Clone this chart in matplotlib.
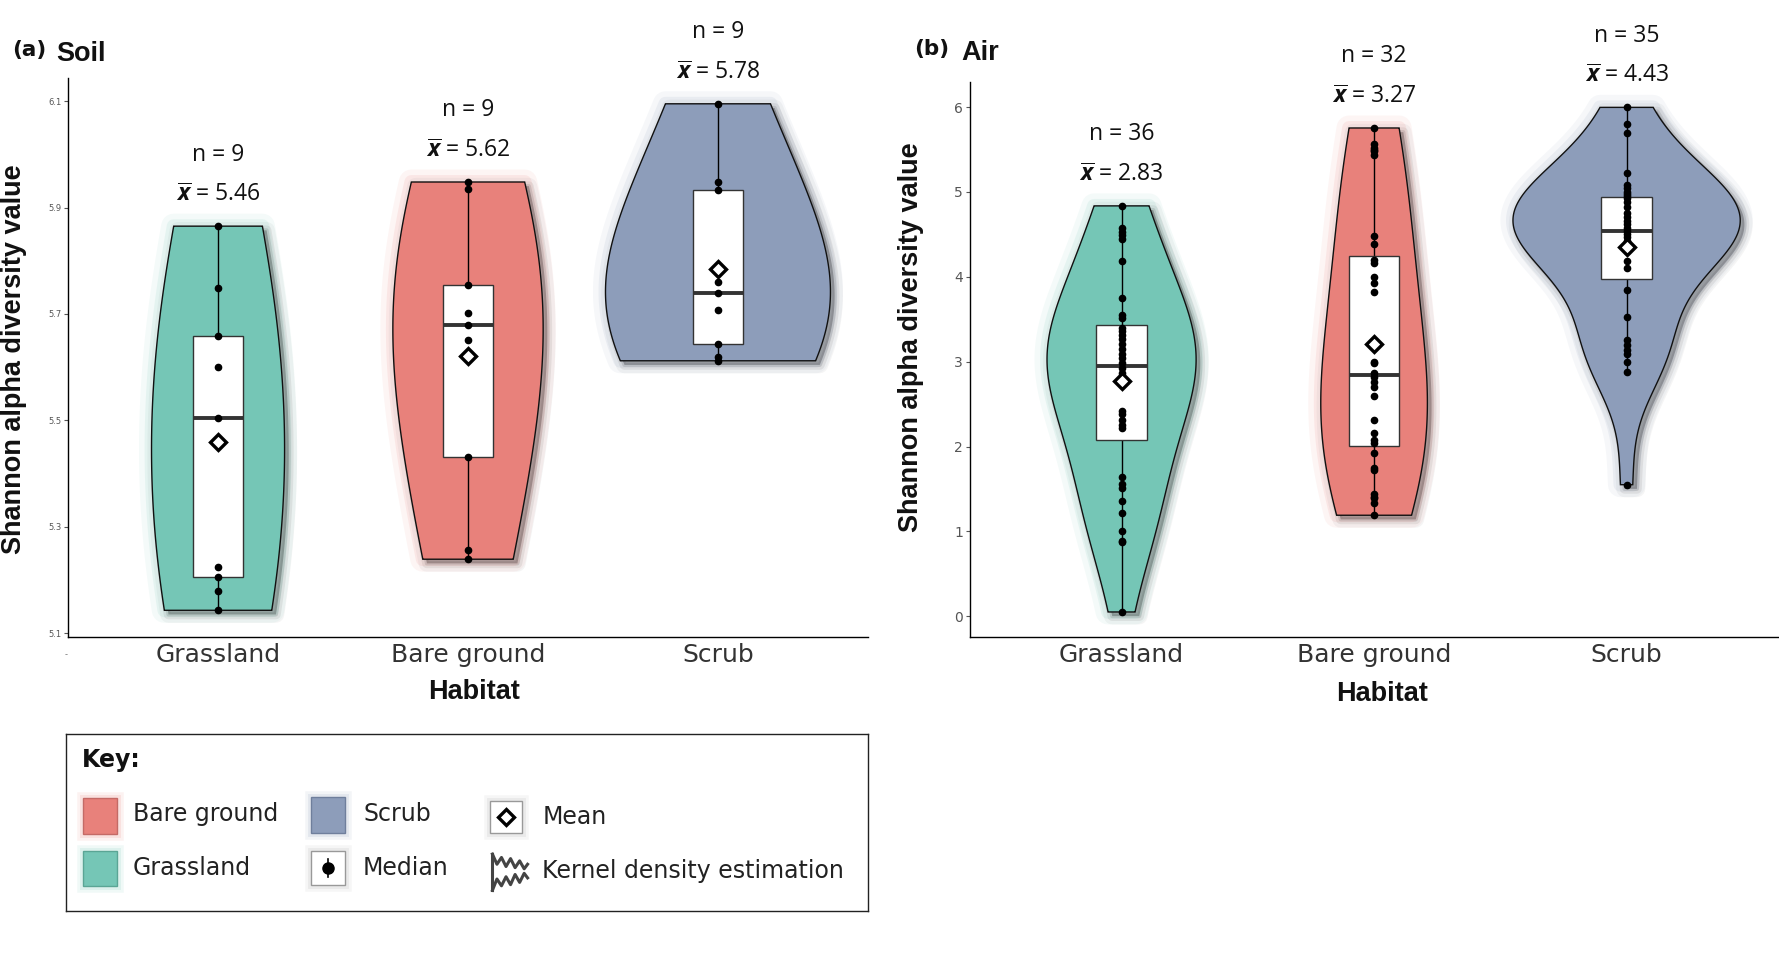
import numpy as np
import matplotlib
matplotlib.use("Agg")
import matplotlib.pyplot as plt
from matplotlib import transforms
from matplotlib.patches import Polygon, Rectangle

# ---------------- data ----------------
habitats = ["Grassland", "Bare ground", "Scrub"]

soil_grassland = [5.143, 5.179, 5.206, 5.224, 5.505, 5.600, 5.658, 5.748, 5.865]
soil_bare = [5.239, 5.257, 5.432, 5.651, 5.679, 5.701, 5.754, 5.934, 5.948]
soil_scrub = [5.612, 5.620, 5.644, 5.707, 5.740, 5.760, 5.933, 5.948, 6.095]

air_grassland = [0.05, 0.869, 0.889, 1.006, 1.221, 1.358, 1.514, 1.553, 1.639,
                 2.217, 2.25, 2.315, 2.38, 2.413, 2.75, 2.803, 2.862, 2.920,
                 2.979, 3.038, 3.096, 3.155, 3.213, 3.272, 3.312, 3.359, 3.40,
                 3.515, 3.553, 3.749, 4.191, 4.444, 4.491, 4.531, 4.570, 4.836]
air_bare = [1.19, 1.338, 1.396, 1.40, 1.436, 1.729, 1.75, 1.924, 2.041, 2.081,
            2.158, 2.307, 2.597, 2.706, 2.764, 2.823, 2.862, 2.979, 3.0, 3.819,
            3.925, 4.0, 4.159, 4.198, 4.386, 4.484, 5.441, 5.48, 5.5, 5.519,
            5.56, 5.754]
air_scrub = [1.55, 2.882, 2.999, 3.089, 3.143, 3.195, 3.253, 3.526, 3.839,
             4.104, 4.191, 4.30, 4.35, 4.386, 4.426, 4.47, 4.503, 4.543, 4.581,
             4.62, 4.66, 4.707, 4.757, 4.824, 4.88, 4.93, 4.953, 4.972, 5.0,
             5.042, 5.082, 5.226, 5.695, 5.80, 5.997]

soil_n = [9, 9, 9]
soil_mean_labels = ["5.46", "5.62", "5.78"]
air_n = [36, 32, 35]
air_mean_labels = ["2.83", "3.27", "4.43"]

soil_yticks = [5.1, 5.3, 5.5, 5.7, 5.9, 6.1]
air_yticks = [0, 1, 2, 3, 4, 5, 6]

col_grass = "#75C6B6"
col_bare = "#E8817B"
col_scrub = "#8D9DBA"
colors = [col_grass, col_bare, col_scrub]

# ---------------- style ----------------
plt.rcParams["font.family"] = ["DejaVu Sans"]
plt.rcParams["mathtext.fontset"] = "custom"
plt.rcParams["mathtext.rm"] = "Open Sans"
plt.rcParams["mathtext.it"] = "Open Sans:italic:bold"
plt.rcParams["mathtext.bf"] = "Open Sans:bold"

W, H = 1568.0, 842.0  # layout reference frame


def fx(px):
    return px / W


def fy(py):
    return 1 - py / H


def nrd0(x):
    x = np.asarray(x, float)
    sd = np.std(x, ddof=1)
    q75, q25 = np.percentile(x, [75, 25])
    lo = min(sd, (q75 - q25) / 1.34)
    if lo <= 0:
        lo = sd
    return 0.9 * lo * len(x) ** -0.2


def kde(x, grid, adjust):
    x = np.asarray(x, float)
    bw = nrd0(x) * adjust
    z = (grid[:, None] - x[None, :]) / bw
    return np.exp(-0.5 * z ** 2).sum(1) / (len(x) * bw * np.sqrt(2 * np.pi))


fig = plt.figure(figsize=(17.79, 9.55), dpi=100)


def draw_panel(ax, groups, ns, mean_labels, yticks, tick_fs, adjust):
    grids, dens = [], []
    for g in groups:
        g = np.asarray(g, float)
        grid = np.linspace(g.min(), g.max(), 512)
        grids.append(grid)
        dens.append(kde(g, grid, adjust))
    dmax = max(d.max() for d in dens)
    shadow_tr = transforms.offset_copy(ax.transData, fig=fig, x=3, y=-3, units="points")
    for i, (g, grid, d, col) in enumerate(zip(groups, grids, dens, colors)):
        g = np.asarray(g, float)
        x = i + 1
        hw = 0.45 * d / dmax
        xs = np.concatenate([x - hw, (x + hw)[::-1]])
        ys = np.concatenate([grid, grid[::-1]])
        verts = np.column_stack([xs, ys])
        # soft drop shadow
        for lw, a in [(12, 0.04), (7, 0.07), (3, 0.12)]:
            ax.add_patch(Polygon(verts, closed=True, fc="none", ec="black", lw=lw,
                                 alpha=a, transform=shadow_tr, zorder=1,
                                 joinstyle="round"))
        ax.add_patch(Polygon(verts, closed=True, fc="#444444", ec="none", alpha=0.45,
                             transform=shadow_tr, zorder=1))
        # coloured halo
        for lw, a in [(18, 0.08), (10, 0.12)]:
            ax.add_patch(Polygon(verts, closed=True, fc="none", ec=col, lw=lw,
                                 alpha=a, zorder=1.5, joinstyle="round"))
        ax.add_patch(Polygon(verts, closed=True, fc=col, ec="#111111", lw=1.0, zorder=2))

        # box plot
        q1, med, q3 = np.percentile(g, [25, 50, 75])
        iqr = q3 - q1
        lo = g[g >= q1 - 1.5 * iqr].min()
        hi = g[g <= q3 + 1.5 * iqr].max()
        ax.plot([x, x], [lo, hi], color="black", lw=1.0, zorder=3)
        bw = 0.2
        ax.add_patch(Rectangle((x - bw / 2, q1), bw, q3 - q1, fc="white",
                               ec="#333333", lw=1.0, zorder=4))
        ax.plot([x - bw / 2, x + bw / 2], [med, med], color="#333333", lw=2.8,
                zorder=5, solid_capstyle="butt")
        ax.plot(np.full(len(g), x), g, "o", color="black", ms=4.5, zorder=6)
        ax.plot([x], [g.mean()], "D", mfc="white", mec="black", mew=2.4, ms=8,
                zorder=7)

        top = g.max()
        ax.annotate(f"n = {ns[i]}", xy=(x, top), xytext=(0, 51.5),
                    textcoords="offset points", ha="center", va="center",
                    fontsize=16.5, family="Open Sans", color="#111111")
        ax.annotate(r"$\overline{x}$ = " + mean_labels[i], xy=(x, top),
                    xytext=(0, 22.5), textcoords="offset points", ha="center",
                    va="center", fontsize=16.5, family="Open Sans", color="#111111")

    ax.set_xlim(0.4, 3.6)
    ax.set_xticks([1, 2, 3])
    ax.set_xticklabels(habitats, fontsize=18, color="#333333")
    ax.tick_params(axis="x", length=0, pad=4)
    ax.set_yticks(yticks)
    ax.set_yticklabels([f"{t:g}" for t in yticks], fontsize=tick_fs, color="#555555")
    ax.tick_params(axis="y", length=3, width=0.8, color="#555555", pad=2)
    for s in ["top", "right"]:
        ax.spines[s].set_visible(False)
    for s in ["left", "bottom"]:
        ax.spines[s].set_linewidth(1.0)
        ax.spines[s].set_color("black")


ax1 = fig.add_axes([fx(60), fy(562), fx(765) - fx(60), fy(69) - fy(562)])
draw_panel(ax1, [soil_grassland, soil_bare, soil_scrub], soil_n, soil_mean_labels,
           soil_yticks, 6, 2.0)
ax1.set_ylim(5.092, 6.143)

ax2 = fig.add_axes([fx(855), fy(562), 0.9995 - fx(855), fy(72) - fy(562)])
draw_panel(ax2, [air_grassland, air_bare, air_scrub], air_n, air_mean_labels,
           air_yticks, 10, 1.7)
ax2.set_ylim(-0.25, 6.3)

# axis titles and panel labels
title_font = dict(family="Liberation Sans", fontweight="bold", fontsize=19.5,
                  color="#111111")
fig.text(fx(12), fy(317), "Shannon alpha diversity value", rotation=90,
         ha="center", va="center", **title_font)
fig.text(fx(803), fy(297), "Shannon alpha diversity value", rotation=90,
         ha="center", va="center", **title_font)
fig.text(fx(418), fy(610), "Habitat", ha="center", va="center", **title_font)
fig.text(fx(1218), fy(612), "Habitat", ha="center", va="center", **title_font)

fig.text(fx(11), fy(44), "(a)", ha="left", va="center", fontsize=15.5,
         fontweight="bold", color="#111111")
fig.text(fx(50), fy(48), "Soil", ha="left", va="center", **title_font)
fig.text(fx(806), fy(43), "(b)", ha="left", va="center", fontsize=15.5,
         fontweight="bold", color="#111111")
fig.text(fx(847), fy(47), "Air", ha="left", va="center", **title_font)
fig.text(fx(58), fy(577), "-", ha="center", va="center", fontsize=6, color="#777777")

# ---------------- key ----------------
axk = fig.add_axes([fx(58), fy(803), fx(765) - fx(58), fy(647) - fy(803)])
axk.set_xlim(58, 765)
axk.set_ylim(803, 647)
axk.set_xticks([])
axk.set_yticks([])
for s in axk.spines.values():
    s.set_linewidth(1.0)
    s.set_color("#222222")

axk.text(72, 670, "Key:", fontsize=17, fontweight="bold", va="center", ha="left",
         color="#111111")


def swatch(x0, y0, w, h, fc, ec, glow=None):
    if glow is not None:
        for lw, a in [(9, 0.10), (5, 0.15)]:
            axk.add_patch(Rectangle((x0, y0), w, h, fc="none", ec=glow, lw=lw,
                                    alpha=a, zorder=1))
    axk.add_patch(Rectangle((x0, y0), w, h, fc=fc, ec=ec, lw=1.0, zorder=2))


swatch(73, 704, 30, 31, col_bare, "#c46a66", glow=col_bare)
swatch(73, 750, 30, 31, col_grass, "#5aa595", glow=col_grass)
swatch(274, 703, 30, 31, col_scrub, "#6f7f9c", glow=col_scrub)
swatch(274, 750, 30, 30, "white", "#999999", glow="#aaaaaa")
swatch(432, 706, 28, 28, "white", "#999999", glow="#aaaaaa")

axk.plot([289, 289], [757, 773], color="black", lw=1.2, zorder=3)
axk.plot([289], [765], "o", color="black", ms=8, zorder=4)
axk.plot([446], [720], "D", mfc="white", mec="black", mew=2.4, ms=8, zorder=4)

# kernel density icon (squiggly outline)
kx_top = [434, 438, 442, 446, 450, 454, 458, 462, 465]
ky_top = [753, 762, 756, 764, 757, 765, 759, 766, 762]
ky_bot = [785, 775, 781, 773, 780, 771, 778, 770, 774]
axk.plot([434, 434], [753, 785], color="#444444", lw=2.2, zorder=3)
axk.plot(kx_top, ky_top, color="#444444", lw=2.2, zorder=3)
axk.plot(kx_top, ky_bot, color="#444444", lw=2.2, zorder=3)

leg_font = dict(fontsize=17, va="center", ha="left", color="#222222")
axk.text(117, 718, "Bare ground", **leg_font)
axk.text(117, 765, "Grassland", **leg_font)
axk.text(320, 718, "Scrub", **leg_font)
axk.text(320, 765, "Median", **leg_font)
axk.text(478, 720, "Mean", **leg_font)
axk.text(478, 768, "Kernel density estimation", **leg_font)

fig.savefig("out.png", dpi=100, facecolor="white")
